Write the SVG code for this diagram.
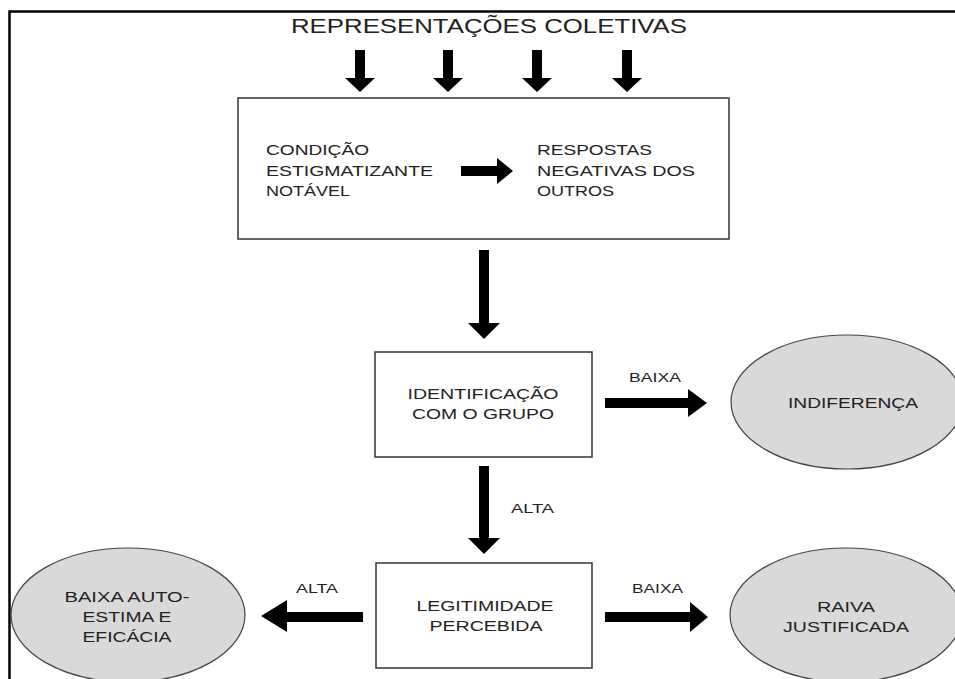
<svg xmlns="http://www.w3.org/2000/svg" width="955" height="679" viewBox="0 0 955 679">
<style>
  .frame{fill:none;stroke:#000;stroke-width:2.5}
  .box{fill:#fff;stroke:#333;stroke-width:1.5}
  .oval{fill:#d9d9d9;stroke:#444;stroke-width:1.2}
  .t{font-family:"Liberation Sans",Arial,sans-serif;fill:#222;font-size:14px}
  .title{font-size:21px}
  .lbl{font-size:13px}
  .arrow{fill:#000}
</style>
<rect x="0" y="0" width="955" height="679" fill="#fff"/>
<path class="frame" d="M9.5,679 V11.5 H955"/>

<g id="representacoes">
  <text class="t title" x="291" y="33" textLength="396" lengthAdjust="spacingAndGlyphs">REPRESENTAÇÕES COLETIVAS</text>
</g>

<g id="contexto">
  <rect class="box" x="238" y="98" width="491" height="141"/>
</g>
<g id="condicao">
  <text class="t" x="266" y="155" textLength="103" lengthAdjust="spacingAndGlyphs">CONDIÇÃO</text>
  <text class="t" x="266" y="176" textLength="167" lengthAdjust="spacingAndGlyphs">ESTIGMATIZANTE</text>
  <text class="t" x="266" y="196" textLength="84" lengthAdjust="spacingAndGlyphs">NOTÁVEL</text>
</g>
<g id="respostas">
  <text class="t" x="537" y="155" textLength="115" lengthAdjust="spacingAndGlyphs">RESPOSTAS</text>
  <text class="t" x="537" y="176" textLength="158" lengthAdjust="spacingAndGlyphs">NEGATIVAS DOS</text>
  <text class="t" x="537" y="196" textLength="77" lengthAdjust="spacingAndGlyphs">OUTROS</text>
</g>

<g id="identificacao">
  <rect class="box" x="375" y="352" width="217" height="105"/>
  <text class="t" x="483" y="399" text-anchor="middle" textLength="151" lengthAdjust="spacingAndGlyphs">IDENTIFICAÇÃO</text>
  <text class="t" x="483" y="419" text-anchor="middle" textLength="142" lengthAdjust="spacingAndGlyphs">COM O GRUPO</text>
</g>

<g id="indiferenca">
  <ellipse class="oval" cx="847" cy="402" rx="116" ry="67"/>
  <text class="t" x="853" y="408" text-anchor="middle" textLength="130" lengthAdjust="spacingAndGlyphs">INDIFERENÇA</text>
</g>

<g id="legitimidade">
  <rect class="box" x="376" y="563" width="216" height="105"/>
  <text class="t" x="485" y="611" text-anchor="middle" textLength="137" lengthAdjust="spacingAndGlyphs">LEGITIMIDADE</text>
  <text class="t" x="486" y="631" text-anchor="middle" textLength="113" lengthAdjust="spacingAndGlyphs">PERCEBIDA</text>
</g>

<g id="raiva">
  <ellipse class="oval" cx="846" cy="615" rx="116" ry="67"/>
  <text class="t" x="846" y="612" text-anchor="middle" textLength="58" lengthAdjust="spacingAndGlyphs">RAIVA</text>
  <text class="t" x="846" y="632" text-anchor="middle" textLength="126" lengthAdjust="spacingAndGlyphs">JUSTIFICADA</text>
</g>

<g id="baixa-autoestima">
  <ellipse class="oval" cx="128" cy="615" rx="117" ry="67"/>
  <text class="t" x="127" y="602" text-anchor="middle" textLength="125" lengthAdjust="spacingAndGlyphs">BAIXA AUTO-</text>
  <text class="t" x="127" y="622" text-anchor="middle" textLength="89" lengthAdjust="spacingAndGlyphs">ESTIMA E</text>
  <text class="t" x="127" y="642" text-anchor="middle" textLength="89" lengthAdjust="spacingAndGlyphs">EFICÁCIA</text>
</g>

<g id="connectors">
  <polygon class="arrow" points="355,50 365,50 365,78 375,78 360,92 345,78 355,78"/>
  <polygon class="arrow" points="443,50 453,50 453,78 463,78 448,92 433,78 443,78"/>
  <polygon class="arrow" points="532,50 542,50 542,78 552,78 537,92 522,78 532,78"/>
  <polygon class="arrow" points="622,50 632,50 632,78 642,78 627,92 612,78 622,78"/>
  <polygon class="arrow" points="461,166 497,166 497,158 513,171 497,184 497,176 461,176"/>
  <polygon class="arrow" points="479,250 489,250 489,323 500,323 484,339 468,323 479,323"/>
  <polygon class="arrow" points="605,398 688,398 688,389 707,403 688,417 688,408 605,408"/>
  <text class="t lbl" x="629" y="382" textLength="52" lengthAdjust="spacingAndGlyphs">BAIXA</text>
  <polygon class="arrow" points="479,466 489,466 489,538 500,538 484,554 468,538 479,538"/>
  <text class="t lbl" x="511" y="513" textLength="43" lengthAdjust="spacingAndGlyphs">ALTA</text>
  <polygon class="arrow" points="605,612 690,612 690,602 708,617 690,632 690,622 605,622"/>
  <text class="t lbl" x="632" y="593" textLength="51" lengthAdjust="spacingAndGlyphs">BAIXA</text>
  <polygon class="arrow" points="363,612 287,612 287,600 261,616 287,632 287,622 363,622"/>
  <text class="t lbl" x="296" y="593" textLength="42" lengthAdjust="spacingAndGlyphs">ALTA</text>
</g>
</svg>
